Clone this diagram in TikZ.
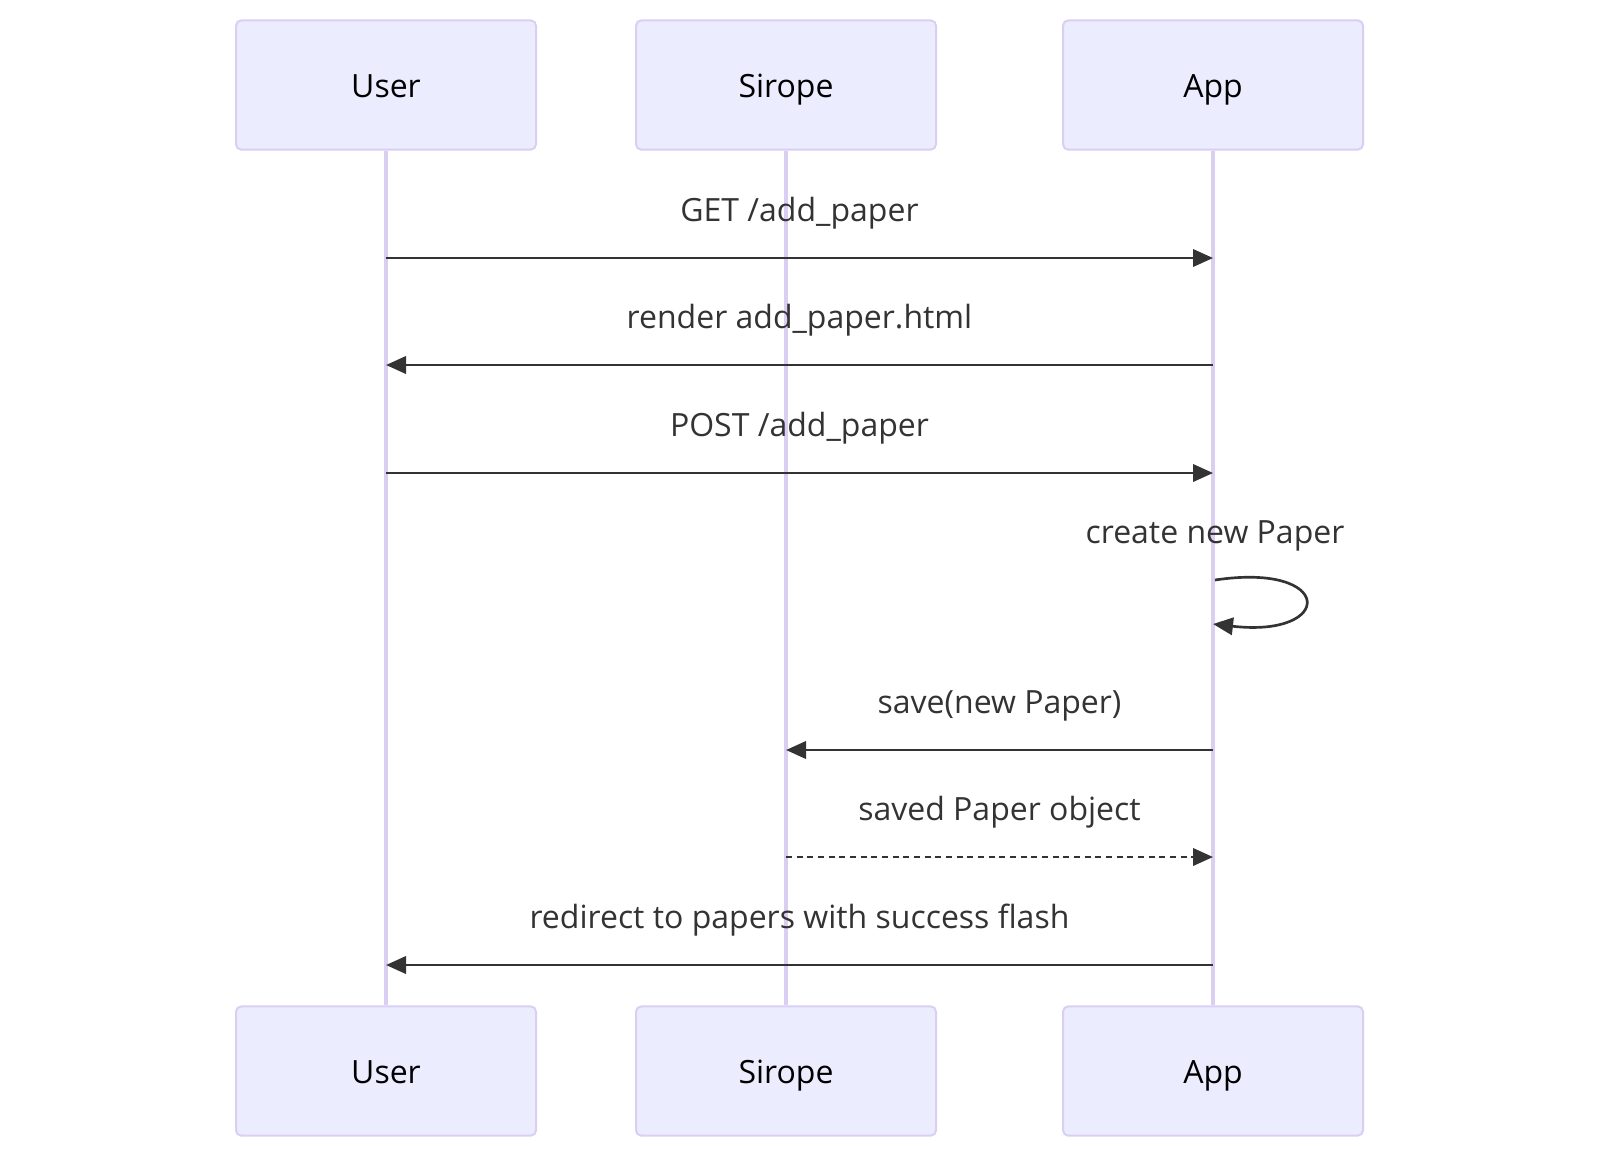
\documentclass[tikz,border=0pt]{standalone}
\usepackage{fontspec}
\setmainfont{Open Sans}
\usepackage{xcolor}
\usetikzlibrary{arrows.meta,positioning,calc}

\definecolor{actorfill}{HTML}{ECECFF}
\definecolor{actorline}{HTML}{DACEF3}
\definecolor{lifeline}{HTML}{DACEF3}
\definecolor{msgcol}{HTML}{333333}

\begin{document}
\begin{tikzpicture}[
  x=0.75pt, y=-0.75pt,
  actor/.style = {draw=actorline, line width=1.5pt, fill=actorfill,
                  rounded corners=4pt, minimum width=225pt,
                  minimum height=97pt, font=\fontsize{24}{28}\selectfont,
                  text height=18pt, text depth=0pt, inner sep=0pt},
  life/.style  = {draw=lifeline, line width=3pt},
  msg/.style   = {draw=msgcol, line width=2pt,
                  -{Triangle[length=15pt, width=13pt]}},
  reply/.style = {msg, dash pattern=on 4.5pt off 3.5pt},
  ltext/.style = {font=\fontsize{24}{28}\selectfont, text=msgcol,
                  inner sep=0pt, anchor=base},
  mlabel/.style = {ltext, midway, yshift=27.4pt},
]
\useasboundingbox (0,0) rectangle (1600,1158);

%% ── ACTORS ──────────────────────────────────────────────────────────────
\node[actor] (user-top)   at (386,85)   {User};
\node[actor] (sirope-top) at (786,85)   {Sirope};
\node[actor] (app-top)    at (1213,85)  {App};
\node[actor] (user-bot)   at (386,1071) {User};
\node[actor] (sirope-bot) at (786,1071) {Sirope};
\node[actor] (app-bot)    at (1213,1071){App};

%% ── LIFELINES ───────────────────────────────────────────────────────────
\draw[life] (user-top.south)   -- (user-bot.north);
\draw[life] (sirope-top.south) -- (sirope-bot.north);
\draw[life] (app-top.south)    -- (app-bot.north);

%% ── MESSAGE END POINTS ──────────────────────────────────────────────────
\foreach \i/\y in {1/258, 2/365, 3/473, 4/580, 5/750, 6/857, 7/965} {
  \coordinate (u\i) at (user-top.south   |- 0,\y);
  \coordinate (s\i) at (sirope-top.south |- 0,\y);
  \coordinate (a\i) at (app-top.south    |- 0,\y);
}
\coordinate (a4end) at ($(a4)+(0,44)$);

%% ── MESSAGES ────────────────────────────────────────────────────────────
\draw[msg]   (u1) -- node[mlabel]{GET /add\_paper} (a1);
\draw[msg]   (a2) -- node[mlabel]{render add\_paper.html} (u2);
\draw[msg]   (u3) -- node[mlabel]{POST /add\_paper} (a3);

%% self call on App
\draw[msg] ($(a4)+(2,0)$) .. controls ($(a4)+(122,-18)$) and ($(a4)+(122,58)$) .. (a4end);
\node[ltext, yshift=27.4pt] (self-lbl) at ($(a4)+(2,0)$) {create new Paper};

\draw[msg]   (a5) -- node[mlabel]{save(new Paper)} (s5);
\draw[reply] (s6) -- node[mlabel]{saved Paper object} (a6);
\draw[msg]   (a7) -- node[mlabel]{redirect to papers with success flash} (u7);
\end{tikzpicture}
\end{document}
